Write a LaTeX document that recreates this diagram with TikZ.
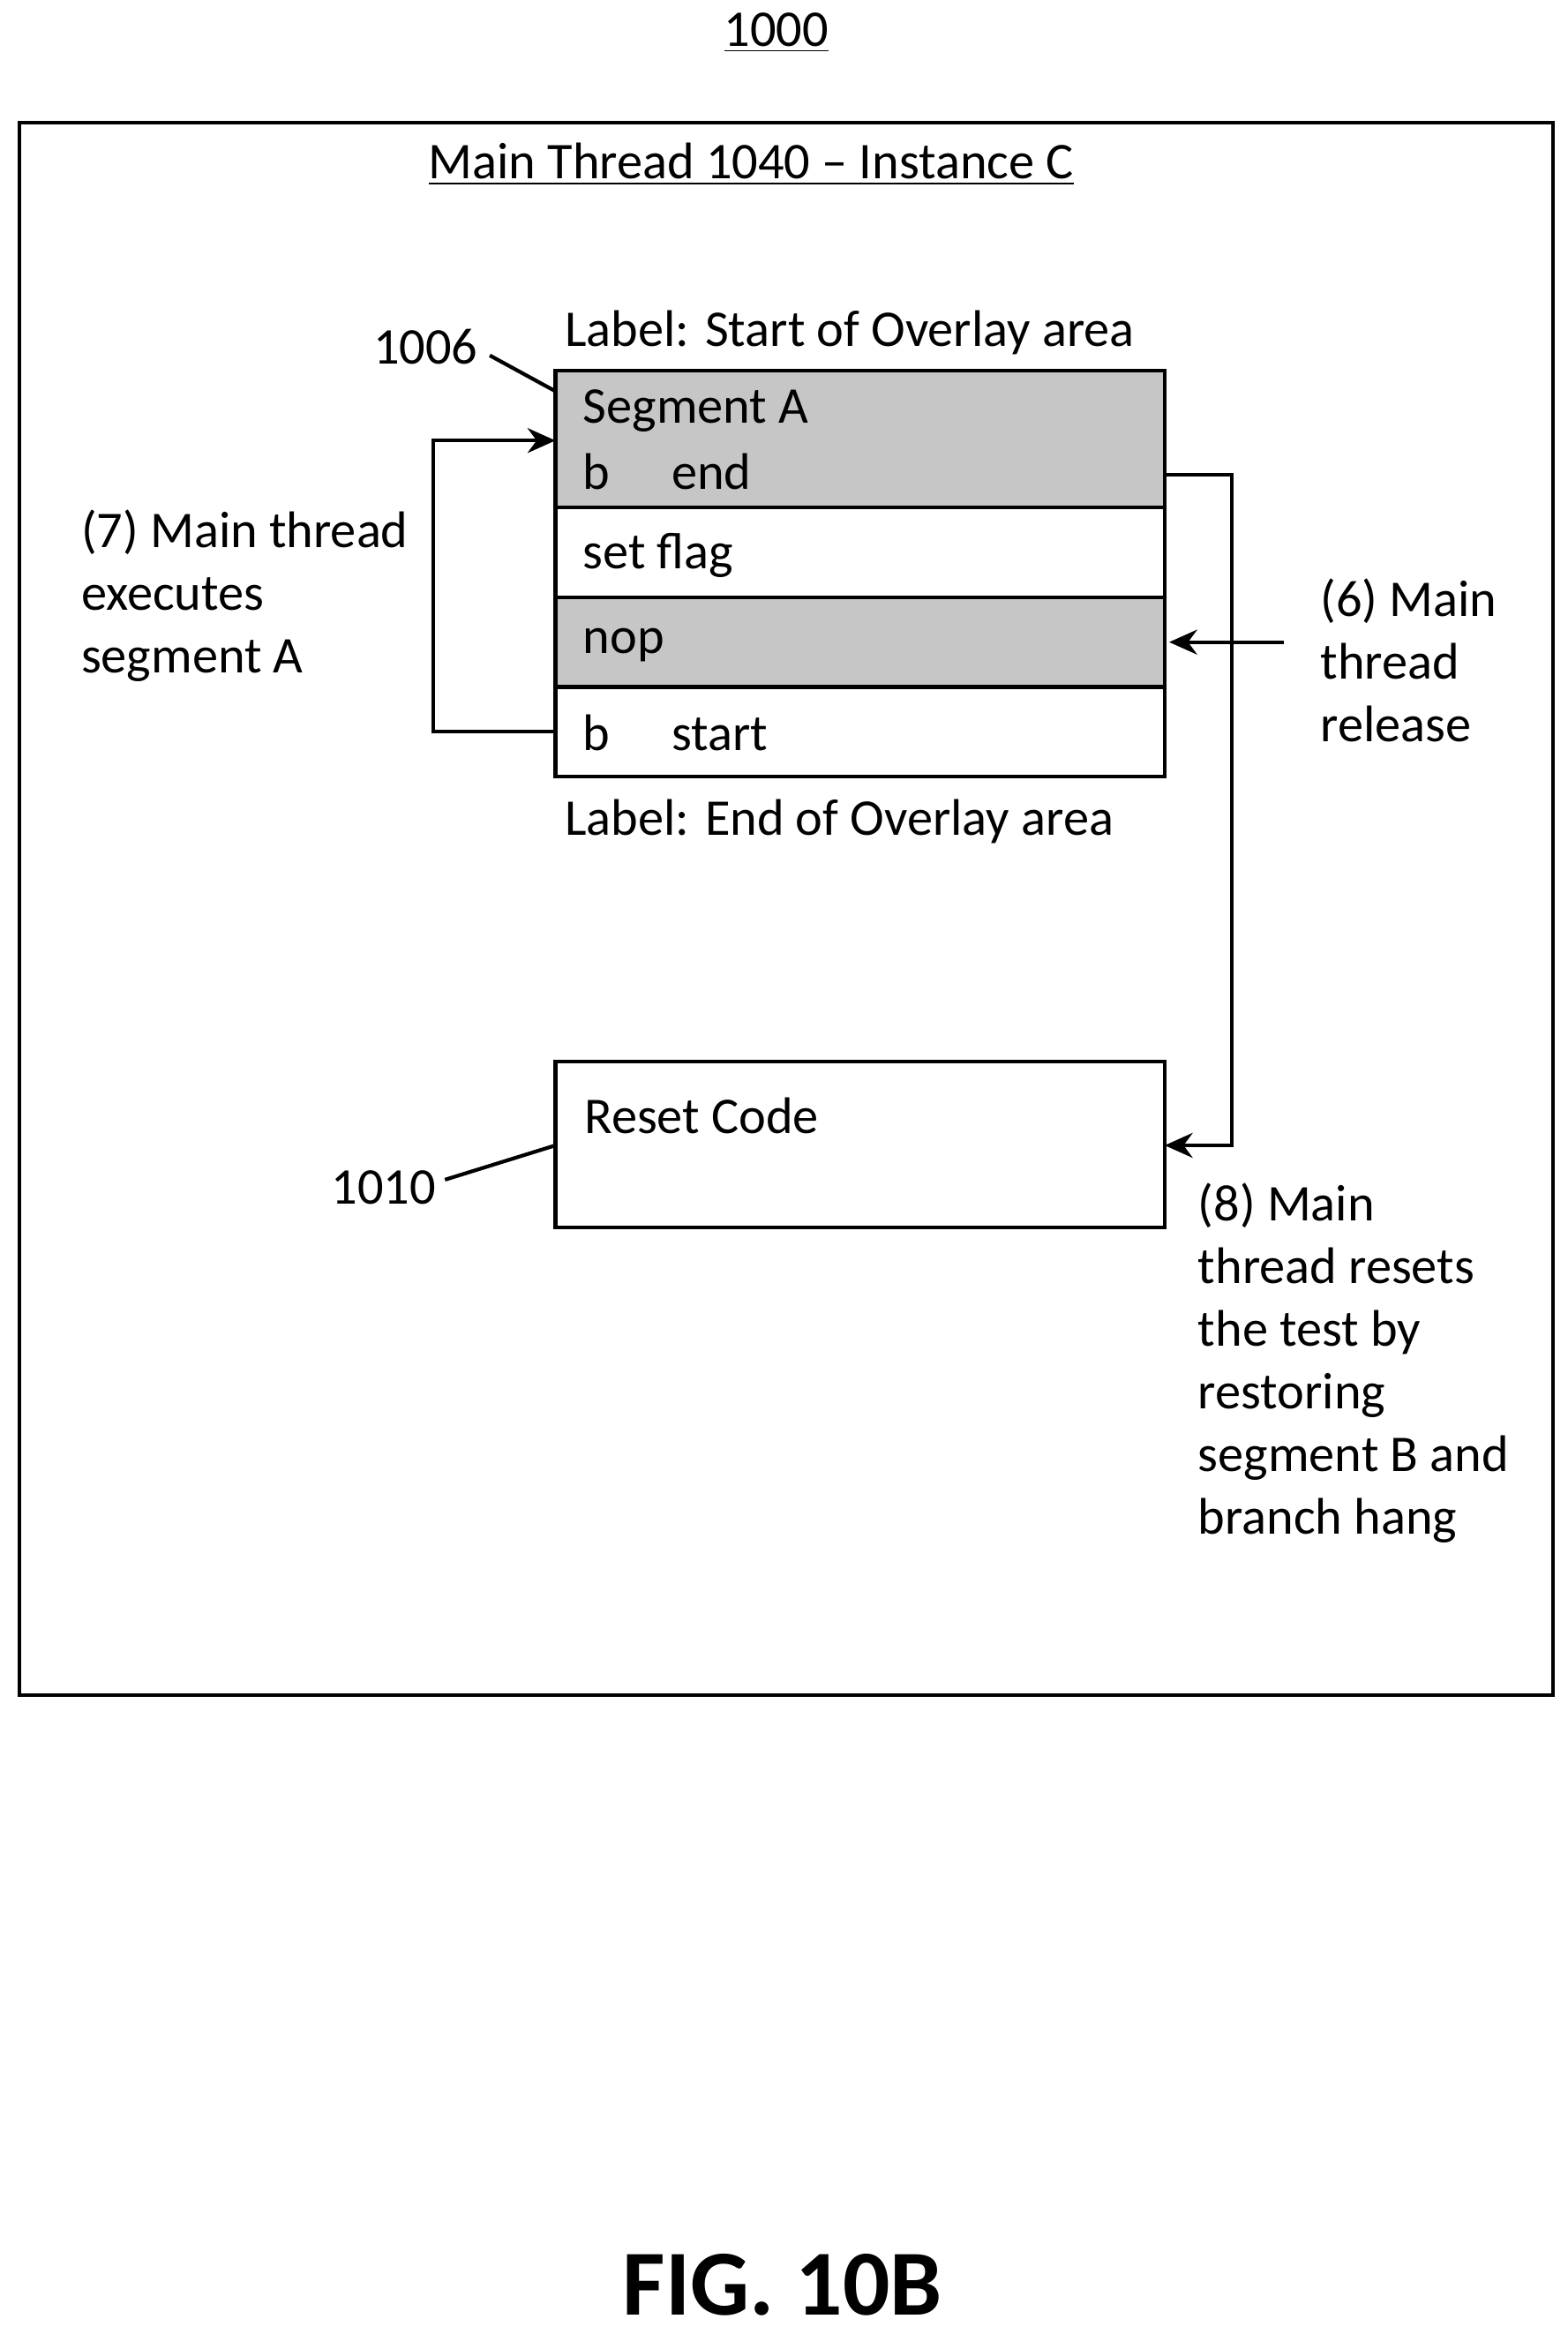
\documentclass[tikz,border=0pt]{standalone}
\usepackage{fontspec}
\setmainfont{Carlito}
\usetikzlibrary{positioning,arrows.meta}
\tikzset{
  txt/.style={font=\fontsize{16.6}{20.2}\selectfont, inner sep=0pt},
  cell/.style={draw=black, line width=1.2pt},
  shade/.style={cell, fill=gray!45},
  line/.style={draw=black, line width=1.2pt},
  arr/.style={line, -{Stealth[length=9pt,width=8pt]}}
}
\begin{document}
\begin{tikzpicture}[x=0.016924cm, y=-0.016924cm]
            \useasboundingbox (0,0) rectangle (1050,1563);
            \node[txt] (fignum) at (520,22) {\underline{1000}};
            \draw[line] (13,82) rectangle (1040,1135);
            \node[txt] (title) at (503,110) {\underline{Main Thread 1040 -- Instance C}};

            % overlay area
            \draw[shade] (372,248) rectangle (780,340);
            \draw[cell] (372,340) rectangle (780,400);
            \draw[shade] (372,400) rectangle (780,460);
            \draw[cell] (372,460) rectangle (780,520);
            \node[txt, anchor=west] (lstart) at (378,223) {Label: Start of Overlay area};
            \node[txt, anchor=west] (sega) at (390,275) {Segment A};
            \node[txt, anchor=west] (bend) at (390,316) {b\hspace{1.2em}end};
            \node[txt, anchor=west] (setflag) at (390,372) {set flag};
            \node[txt, anchor=west] (nop) at (390,432) {nop};
            \node[txt, anchor=west] (bstart) at (390,491) {b\hspace{1.2em}start};
            \node[txt, anchor=west] (lend) at (378,550) {Label: End of Overlay area};

            % reset code
            \draw[cell] (372,711) rectangle (780,822);
            \node[txt, anchor=west] (reset) at (391,747) {Reset Code};

            % reference numerals
            \node[txt] (n1006) at (285,232) {1006};
            \draw[line] (328,238) -- (372,262);
            \node[txt] (n1010) at (257,795) {1010};
            \draw[line] (298,790) -- (372,767);

            % connectors
            \coordinate (loopA) at (372,490);
            \coordinate (loopB) at (372,295);
            \draw[arr] (loopA) -- (290,490) -- (290,295) -- (loopB);
            \coordinate (outA) at (780,318);
            \coordinate (inR) at (780,767);
            \draw[arr] (outA) -- (825,318) -- (825,767) -- (inR);
            \coordinate (relS) at (860,430);
            \coordinate (relE) at (783,430);
            \draw[arr] (relS) -- (relE);

            % notes
            \node[txt, anchor=north west, align=left] (note7) at (54,341) {(7) Main thread\\executes\\segment A};
            \node[txt, anchor=north west, align=left] (note6) at (884,387) {(6) Main\\thread\\release};
            \node[txt, anchor=north west, align=left] (note8) at (802,792) {(8) Main\\thread resets\\the test by\\restoring\\segment B and\\branch hang};

            \node[font=\fontsize{30}{36}\selectfont\bfseries, inner sep=0pt] (fig) at (524,1530) {FIG. 10B};
        \end{tikzpicture}
\end{document}
